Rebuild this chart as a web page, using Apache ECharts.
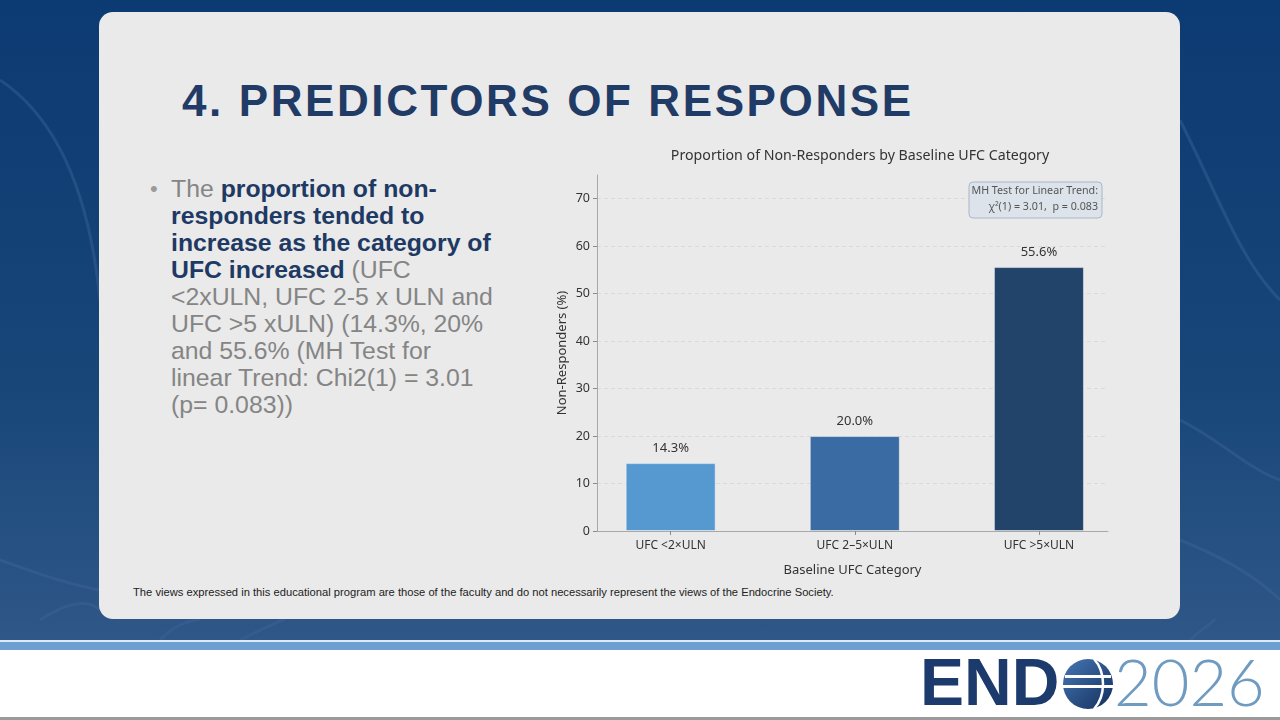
<!DOCTYPE html>
<html>
<head>
<meta charset="utf-8">
<script src="https://cdn.jsdelivr.net/npm/echarts@6/dist/echarts.min.js"></script>
<style>
  html, body { margin: 0; padding: 0; width: 1280px; height: 720px; overflow: hidden; background: #ffffff; }
  #bg { position: absolute; left: 0; top: 0; width: 1280px; height: 640px;
        background: linear-gradient(180deg, #0c3a72 0%, #184679 60%, #2f5788 100%); }
  #bg svg { position: absolute; left: 0; top: 0; }
  #band1 { position: absolute; left: 0; top: 640px; width: 1280px; height: 2px; background: #d9ecfa; }
  #band2 { position: absolute; left: 0; top: 642px; width: 1280px; height: 8px; background: #6e9fd2; }
  #bottomline { position: absolute; left: 0; top: 717px; width: 1280px; height: 3px; background: #9a9a9a; }
  #panel { position: absolute; left: 99px; top: 12px; width: 1081px; height: 607px;
           border-radius: 14px; background: #eaeaea; }
  #heading { position: absolute; left: 182px; top: 76px; font-family: "Liberation Sans", Arial, sans-serif;
             font-weight: bold; font-size: 44px; letter-spacing: 2.6px; color: #1f3b66; white-space: nowrap; }
  #bullet { position: absolute; left: 150px; top: 175px; font-family: "Liberation Sans", Arial, sans-serif;
            font-size: 22px; line-height: 27px; color: #9a9a9a; }
  #body { position: absolute; left: 171px; top: 175px; font-family: "Liberation Sans", Arial, sans-serif;
          font-size: 24.8px; line-height: 27px; color: #858585; white-space: nowrap; }
  #body b { color: #1e3a64; }
  #footer { position: absolute; left: 133px; top: 586px; font-family: "Liberation Sans", Arial, sans-serif;
            font-size: 11.2px; color: #222; white-space: nowrap; }
  #logo { position: absolute; left: 920px; top: 652px; height: 62px; white-space: nowrap; }
  #logo .end { position: absolute; left: 0; top: -8px; font-family: "Liberation Sans", Arial, sans-serif;
               font-weight: bold; font-size: 66px; line-height: 76px; color: #1c3a6b; }
  #logo .year { position: absolute; left: 194px; top: -9px; font-family: "Lato", "Open Sans", sans-serif;
                font-weight: 300; font-size: 65px; line-height: 76px; color: #6f9bc1; }
  #logo svg { position: absolute; left: 142px; top: 6px; }
  #chart { position: absolute; left: 0; top: 0; width: 1280px; height: 720px; }
</style>
</head>
<body>
<div id="bg">
  <svg width="1280" height="640">
    <g fill="none" stroke="#3d6496" stroke-opacity="0.45" stroke-width="3">
      <path d="M0 80 C 60 120, 90 200, 100 300"/>
      <path d="M0 560 C 40 575, 70 585, 100 590"/>
      <path d="M40 620 C 70 600, 90 600, 100 610"/>
      <path d="M160 640 C 175 625, 185 622, 200 619"/>
      <path d="M240 640 C 260 630, 270 625, 285 619"/>
      <path d="M1180 120 C 1220 200, 1240 260, 1280 300"/>
      <path d="M1180 420 C 1220 440, 1250 470, 1280 480"/>
      <path d="M1180 540 C 1230 560, 1260 580, 1280 600"/>
      <path d="M1190 640 C 1200 630, 1210 625, 1215 619"/>
    </g>
  </svg>
</div>
<div id="band1"></div>
<div id="band2"></div>
<div id="bottomline"></div>
<div id="panel"></div>
<div id="heading">4. PREDICTORS OF RESPONSE</div>
<div id="bullet">•</div>
<div id="body"></div>
<div id="footer">The views expressed in this educational program are those of the faculty and do not necessarily represent the views of the Endocrine Society.</div>
<div id="logo">
  <span class="end">END</span>
  <svg width="52" height="52" viewBox="0 0 52 52">
    <defs>
      <linearGradient id="gl" x1="0" y1="0" x2="1" y2="1">
        <stop offset="0" stop-color="#4677b5"/>
        <stop offset="1" stop-color="#142f5c"/>
      </linearGradient>
    </defs>
    <circle cx="26" cy="26" r="25" fill="url(#gl)"/>
    <rect x="3" y="17" width="46" height="3" fill="#ffffff"/>
    <rect x="1" y="27" width="50" height="3" fill="#ffffff"/>
    <path d="M32 1 C 44 14, 44 38, 32 51" fill="none" stroke="#ffffff" stroke-width="2.5"/>
  </svg>
  <span class="year">2026</span>
</div>
<div id="chart"></div>
<script>
  // bullet text, built line by line so it wraps the same way as the slide
  document.getElementById('body').innerHTML =
    'The <b>proportion of non-</b><br>' +
    '<b>responders tended to</b><br>' +
    '<b>increase as the category of</b><br>' +
    '<b>UFC increased</b> (UFC<br>' +
    '&lt;2xULN, UFC 2-5 x ULN and<br>' +
    'UFC &gt;5 xULN) (14.3%, 20%<br>' +
    'and 55.6% (MH Test for<br>' +
    'linear Trend: Chi2(1) = 3.01<br>' +
    '(p= 0.083))';

  // chart data
  var categories = ['UFC <2×ULN', 'UFC 2–5×ULN', 'UFC >5×ULN'];
  var nonResponders = [14.3, 20.0, 55.6];
  var yTicks = [0, 10, 20, 30, 40, 50, 60, 70];

  var barColors = ['#5699d1', '#3a6ba3', '#22436a'];
  var fontName = '"Noto Sans", "Open Sans", sans-serif';

  var chart = echarts.init(document.getElementById('chart'), null, { renderer: 'canvas' });

  var seriesData = nonResponders.map(function (v, i) {
    return {
      value: [i, v],
      itemStyle: { color: barColors[i] }
    };
  });

  var option = {
    backgroundColor: 'transparent',
    animation: false,
    textStyle: { fontFamily: fontName },
    title: {
      text: 'Proportion of Non-Responders by Baseline UFC Category',
      left: 855,
      top: 144,
      textAlign: 'center',
      textStyle: { fontFamily: fontName, fontSize: 14.2, fontWeight: 'normal', color: '#333333' }
    },
    grid: {
      left: 597,
      right: 172,
      top: 175,
      bottom: 189,
      containLabel: false
    },
    xAxis: {
      type: 'value',
      min: -0.4,
      max: 2.375,
      name: 'Baseline UFC Category',
      nameLocation: 'middle',
      nameGap: 33,
      nameTextStyle: { fontFamily: fontName, fontSize: 13, color: '#333333' },
      axisLine: { show: true, onZero: false, lineStyle: { color: '#a8a8a8', width: 1 } },
      axisTick: { show: true, customValues: [0, 1, 2], length: 4, lineStyle: { color: '#8a8a8a' } },
      axisLabel: {
        customValues: [0, 1, 2],
        margin: 9,
        fontFamily: fontName,
        fontSize: 12,
        color: '#333333',
        formatter: function (v) { return categories[Math.round(v)]; }
      },
      splitLine: { show: false }
    },
    yAxis: {
      type: 'value',
      min: 0,
      max: 75,
      name: 'Non-Responders (%)',
      nameLocation: 'middle',
      nameGap: 28,
      nameRotate: 90,
      nameTextStyle: { fontFamily: fontName, fontSize: 13, color: '#333333' },
      axisLine: { show: true, onZero: false, lineStyle: { color: '#a8a8a8', width: 1 } },
      axisTick: { show: true, customValues: yTicks, length: 4, lineStyle: { color: '#8a8a8a' } },
      axisLabel: {
        customValues: yTicks,
        margin: 7,
        fontFamily: fontName,
        fontSize: 12.5,
        color: '#333333'
      },
      splitLine: {
        show: true,
        customValues: yTicks,
        lineStyle: { color: '#d6d6d6', type: [4, 3], width: 0.8 }
      }
    },
    series: [{
      type: 'bar',
      barWidth: 90,
      data: seriesData,
      itemStyle: { borderColor: 'rgba(255,255,255,0.45)', borderWidth: 1 },
      label: {
        show: true,
        position: 'top',
        distance: 8,
        fontFamily: fontName,
        fontSize: 13,
        color: '#333333',
        formatter: function (p) { return p.value[1].toFixed(1) + '%'; }
      }
    }],
    graphic: [
      {
        type: 'rect',
        shape: { x: 969, y: 182, width: 133, height: 36, r: 4 },
        style: { fill: '#dde3ea', stroke: '#a9b7c8', lineWidth: 1 },
        z: 10
      },
      {
        type: 'text',
        x: 1098,
        y: 185,
        style: {
          text: 'MH Test for Linear Trend:',
          align: 'right',
          verticalAlign: 'top',
          fontFamily: fontName,
          fontSize: 10.7,
          fill: '#555555'
        },
        z: 11
      },
      {
        type: 'text',
        x: 1098,
        y: 201,
        style: {
          text: 'χ²(1) = 3.01,  p = 0.083',
          align: 'right',
          verticalAlign: 'top',
          fontFamily: fontName,
          fontSize: 10.7,
          fill: '#555555'
        },
        z: 11
      }
    ]
  };

  chart.setOption(option);
  window.addEventListener('resize', function () {
    chart.resize();
  });
</script>
</body>
</html>
